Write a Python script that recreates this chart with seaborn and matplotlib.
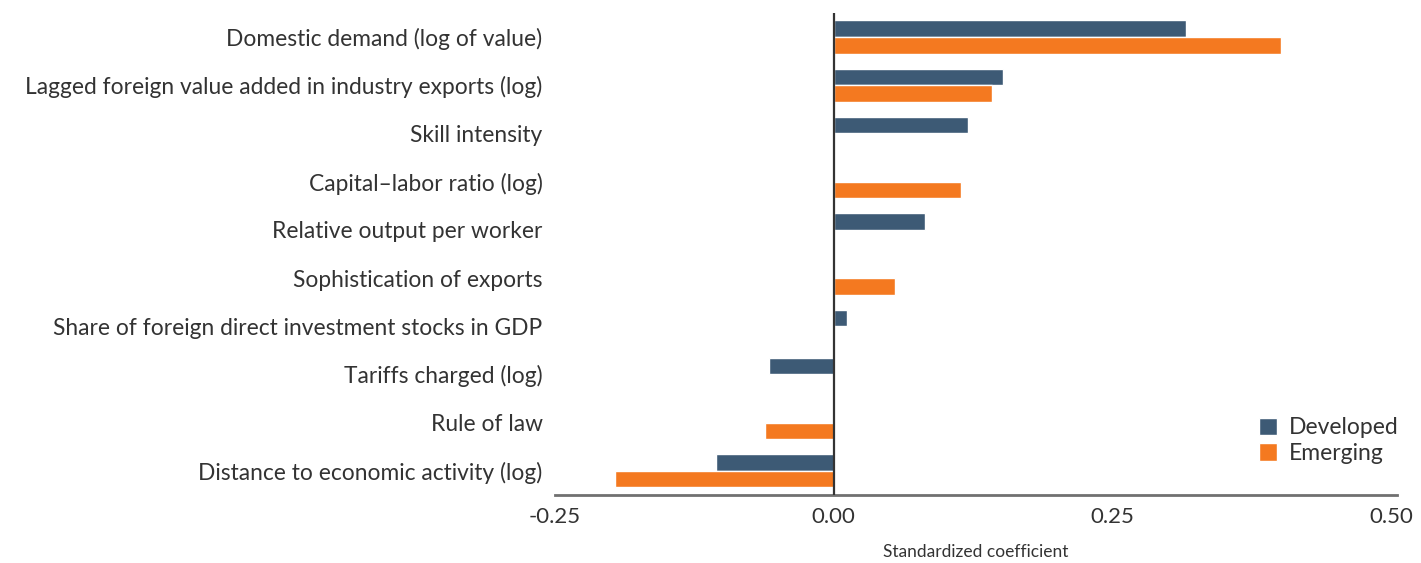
import matplotlib
matplotlib.use("Agg")
import matplotlib.pyplot as plt
import seaborn as sns
import pandas as pd
import numpy as np

categories = [
    "Domestic demand (log of value)",
    "Lagged foreign value added in industry exports (log)",
    "Skill intensity",
    "Capital\u2013labor ratio (log)",
    "Relative output per worker",
    "Sophistication of exports",
    "Share of foreign direct investment stocks in GDP",
    "Tariffs charged (log)",
    "Rule of law",
    "Distance to economic activity (log)",
]
developed = [0.316, 0.152, 0.120, np.nan, 0.082, np.nan, 0.012, -0.058, np.nan, -0.106]
emerging = [0.401, 0.142, np.nan, 0.114, np.nan, 0.055, np.nan, np.nan, -0.062, -0.196]
groups = ["Developed", "Emerging"]
colors = ["#3D5A75", "#F47920"]

df = pd.DataFrame({
    "factor": categories * 2,
    "group": [groups[0]] * len(categories) + [groups[1]] * len(categories),
    "coef": developed + emerging,
})

sns.set_theme(style="white")
plt.rcParams["font.family"] = ["Lato", "DejaVu Sans"]
text_color = "#333333"

fig = plt.figure(figsize=(14.21, 5.63), dpi=100)
ax = fig.add_axes([0.3906, 0.121, 0.5924, 0.856])

sns.barplot(data=df, y="factor", x="coef", hue="group", order=categories,
            hue_order=groups, palette=colors, orient="h", width=0.69,
            saturation=1, ax=ax, errorbar=None, dodge=True)

ax.set_xlim(-0.25, 0.505)
ax.set_ylim(len(categories) - 0.5, -0.5)
ax.set_xticks([-0.25, 0.0, 0.25, 0.50])
ax.set_xticklabels(["-0.25", "0.00", "0.25", "0.50"])
ax.axvline(0, color="#333333", lw=1.6, zorder=3)

for s in ["top", "right", "left"]:
    ax.spines[s].set_visible(False)
ax.spines["bottom"].set_color("#707070")
ax.spines["bottom"].set_linewidth(2)

ax.tick_params(axis="both", length=0, colors=text_color)
ax.tick_params(axis="y", pad=9, labelsize=16.4)
ax.tick_params(axis="x", pad=9, labelsize=16)
ax.set_ylabel("")
ax.set_xlabel("Standardized coefficient", fontsize=12.5, color=text_color,
              labelpad=12)

leg = ax.legend(loc="lower right", bbox_to_anchor=(1.013, 0.045), frameon=False,
                prop={"size": 16.5}, handlelength=0.8,
                handleheight=0.8, handletextpad=0.5, labelspacing=0.2,
                borderaxespad=0)
for t in leg.get_texts():
    t.set_color(text_color)

fig.savefig("out.png", dpi=100, facecolor="white")
